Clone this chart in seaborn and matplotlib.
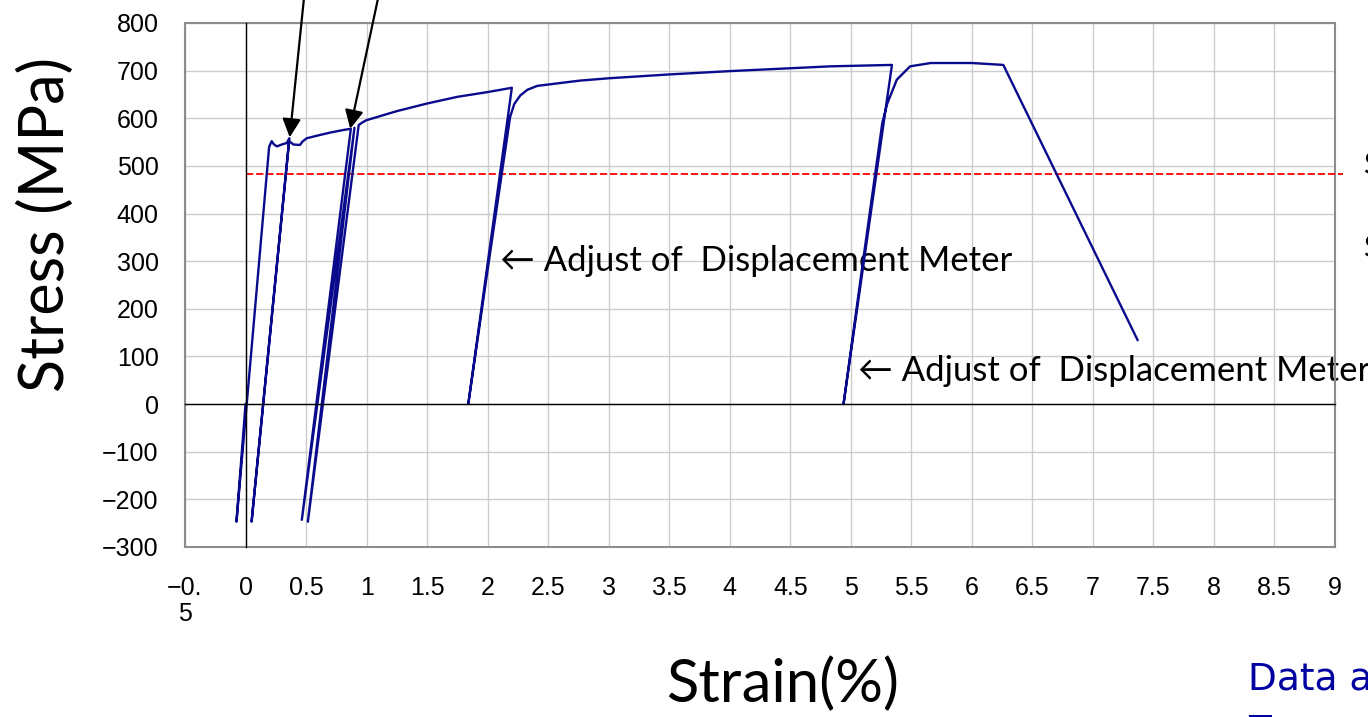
import matplotlib
matplotlib.use("Agg")
import matplotlib.pyplot as plt
import seaborn as sns
import pandas as pd

# stress-strain trace (strain %, stress MPa)
strain = [0.0, -0.075, 0.195, 0.216, 0.235, 0.26, 0.30, 0.34, 0.362,
          0.05, 0.36, 0.395, 0.45, 0.47, 0.505, 0.60, 0.70, 0.80, 0.87,
          0.465, 0.90, 0.515, 0.935, 0.97, 1.0, 1.25, 1.5, 1.75, 2.0, 2.2,
          1.84, 2.0, 2.186, 2.22, 2.27, 2.33, 2.41, 2.76, 3.0, 3.5, 4.0,
          4.5, 4.83, 5.0, 5.34,
          4.94, 5.1, 5.26, 5.30, 5.38, 5.49, 5.66, 6.0, 6.26, 7.37]
stress = [0, -247, 540, 552, 545, 541, 545, 548, 558,
          -247, 552, 545, 544, 551, 558, 564, 570, 575, 578,
          -243, 580, -247, 586, 592, 596, 615, 631, 645, 655, 664,
          0, 282, 603, 630, 648, 660, 668, 679, 684, 692, 699,
          705, 709, 710, 712,
          0, 298, 590, 630, 681, 709, 716, 716, 712, 134]

ref_stress = 483
ref_end = 9.07
arrow_tips = [(0.365, 560), (0.865, 578)]
arrow_tails = [(0.49, 870), (1.11, 870)]
notes = [(2.10, 300), (5.06, 70)]
note_text = "\u2190 Adjust of  Displacement Meter"

xticks = [-0.5 + 0.5 * i for i in range(20)]
xtick_labels = ["\u22120.\n5"] + [("%g" % t) for t in xticks[1:]]
yticks = list(range(-300, 801, 100))
ytick_labels = [("\u2212%d" % -t) if t < 0 else str(t) for t in yticks]

df = pd.DataFrame({"strain": strain, "stress": stress})

sns.set_style("white")
plt.rcParams["text.color"] = "black"
plt.rcParams["xtick.color"] = "black"
plt.rcParams["ytick.color"] = "black"
fig = plt.figure(figsize=(13.68, 7.17), dpi=100)
rect = [185 / 1368, 1 - 547 / 717, 1150 / 1368, 524 / 717]
ax = fig.add_axes(rect)

sns.lineplot(data=df, x="strain", y="stress", sort=False, estimator=None,
             color="#0a0a8c", linewidth=1.7, ax=ax, zorder=4)

ax.set_xlim(-0.5, 9)
ax.set_ylim(-300, 800)
ax.set_xticks(xticks)
ax.set_xticklabels(xtick_labels, family="Liberation Sans", fontsize=18,
                   linespacing=1.1)
ax.set_yticks(yticks)
ax.set_yticklabels(ytick_labels, family="Liberation Sans", fontsize=18)
ax.tick_params(axis="x", length=0, pad=21, labelcolor="black")
ax.tick_params(axis="y", length=0, pad=19, labelcolor="black")
for lab in ax.get_xticklabels():
    lab.set_verticalalignment("top")
ax.grid(True, color="#cccccc", linewidth=1)
for sp in ax.spines.values():
    sp.set_color("#8c8c8c")
    sp.set_linewidth(1.5)
ax.set_xlabel("")
ax.set_ylabel("")

ax.hlines(ref_stress, 0, ref_end, colors="#ff0000", linewidth=1.3,
          linestyles=(0, (4, 1.6)), clip_on=False, zorder=3)

for tip, tail in zip(arrow_tips, arrow_tails):
    ax.annotate("", xy=tip, xytext=tail, annotation_clip=False,
                arrowprops=dict(arrowstyle="-|>", color="black", lw=1.6,
                                mutation_scale=28, shrinkA=0, shrinkB=0))

for x, y in notes:
    ax.text(x, y, note_text, family=["Lato", "DejaVu Sans"], fontsize=25,
            color="black", va="center", ha="left", zorder=2, clip_on=False)

# zero-crossing axes with inward ticks
ax0 = fig.add_axes(rect, sharex=ax, sharey=ax)
ax0.patch.set_visible(False)
ax0.spines["top"].set_visible(False)
ax0.spines["right"].set_visible(False)
ax0.spines["left"].set_position(("data", 0))
ax0.spines["bottom"].set_position(("data", 0))
for s in ("left", "bottom"):
    ax0.spines[s].set_color("black")
    ax0.spines[s].set_linewidth(1.0)
ax0.tick_params(direction="in", length=8, width=1, color="black",
                labelleft=False, labelbottom=False)
ax0.grid(False)

fig.text(46 / 1368, 1 - 225 / 717, "Stress (MPa)", rotation=90,
         family="Lato", fontsize=44, ha="center", va="center")
fig.text(783 / 1368, 1 - 684 / 717, "Strain(%)", family="Lato",
         fontsize=43, ha="center", va="center")
fig.text(1248 / 1368, 1 - 690 / 717, "Data a", family="DejaVu Sans",
         fontsize=27, color="#0000a0", ha="left", va="baseline")
fig.text(1248 / 1368, 1 - 742 / 717, "T", family="DejaVu Sans",
         fontsize=27, color="#0000a0", ha="left", va="baseline")
fig.text(1363 / 1368, 1 - 165 / 717, "S", family="Lato", fontsize=22,
         ha="left", va="center")
fig.text(1363 / 1368, 1 - 248 / 717, "S", family="Lato", fontsize=22,
         ha="left", va="center")

fig.savefig("out.png", dpi=100)
